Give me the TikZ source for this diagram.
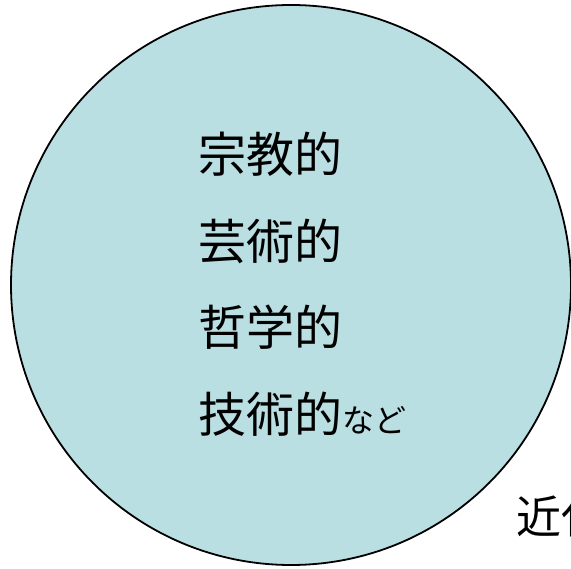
\documentclass[tikz,border=0pt]{standalone}
\usepackage{fontspec}
\newfontfamily\jp{Noto Sans CJK JP}
\definecolor{circfill}{RGB}{186,223,227}
\begin{document}
\begin{tikzpicture}[x=1pt,y=-1pt,
  lbl/.style={anchor=west,inner sep=0pt,font=\jp\fontsize{48}{48}\selectfont,text=black}]
\useasboundingbox (0,0) rectangle (571,569);
\fill[white] (0,0) rectangle (571,569);
\node[circle,draw=black,line width=1.8pt,fill=circfill,minimum size=560pt,inner sep=0pt] (c) at (291,285) {};
\node[lbl] (t1) at (198,154) {宗教的};
\node[lbl] (t2) at (198,241) {芸術的};
\node[lbl] (t3) at (198,327) {哲学的};
\node[lbl] (t4) at (198,414) {技術的{\fontsize{32}{32}\selectfont など}};
\node[lbl,font=\jp\fontsize{45}{45}\selectfont] (t5) at (516,517) {近代};
\end{tikzpicture}
\end{document}
